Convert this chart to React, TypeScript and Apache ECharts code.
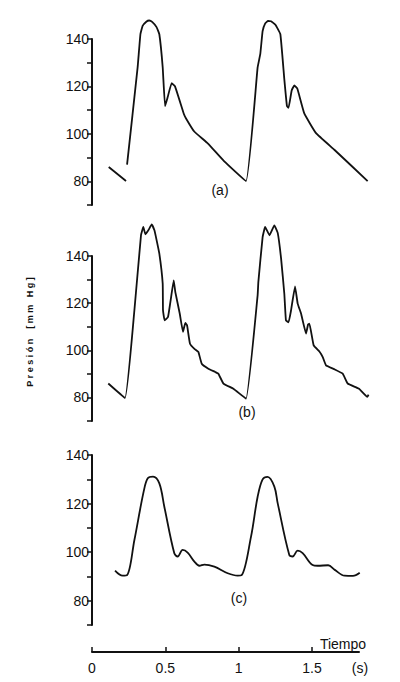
import React, { useEffect, useRef } from "react";
import * as echarts from "echarts";

// Panel (a)
const timeA = [0.114, 0.232, 0.235, 0.239, 0.311, 0.33, 0.345, 0.37, 0.39, 0.41, 0.44, 0.459, 0.482, 0.498, 0.516, 0.543, 0.566, 0.625, 0.641, 0.697, 0.789, 0.9, 1.05, 1.129, 1.147, 1.163, 1.18, 1.2, 1.22, 1.25, 1.284, 1.311, 1.329, 1.34, 1.361, 1.379, 1.4, 1.447, 1.527, 1.652, 1.879];
const pressureA = [86, 80.1, null, 87, 128, 142, 145.5, 147.3, 147.8, 147.2, 145, 142, 128, 111.7, 115.5, 121.4, 120, 108.6, 106.5, 101, 96, 88.5, 80.1, 128, 133.6, 143.3, 146.5, 147.6, 147.5, 146, 142, 123, 111.7, 111, 118.3, 120.4, 119, 108.6, 100.3, 93.3, 80.1];

// Panel (b)
const timeB = [0.111, 0.225, 0.289, 0.334, 0.35, 0.364, 0.385, 0.407, 0.425, 0.436, 0.459, 0.482, 0.484, 0.495, 0.518, 0.536, 0.557, 0.568, 0.598, 0.62, 0.636, 0.648, 0.668, 0.7, 0.725, 0.748, 0.793, 0.84, 0.861, 0.896, 0.964, 1.05, 1.129, 1.134, 1.163, 1.18, 1.21, 1.243, 1.266, 1.289, 1.311, 1.322, 1.34, 1.357, 1.384, 1.402, 1.425, 1.459, 1.473, 1.482, 1.511, 1.55, 1.573, 1.595, 1.65, 1.709, 1.743, 1.82, 1.877, 1.885];
const pressureB = [85.9, 79.8, 117, 148.8, 152.3, 149.2, 151, 153.4, 151, 148, 141, 128.3, 117, 112.7, 114.1, 121.2, 129.7, 124.7, 115.6, 107.8, 111.6, 110.6, 102.8, 100.5, 99.3, 94.3, 92.2, 90.8, 90.1, 85.9, 83.7, 79.5, 123.3, 129, 148, 152.3, 148.8, 153, 149.8, 138.9, 124, 112.7, 111.9, 117, 127.1, 119.8, 115.6, 107.1, 111, 111.3, 102.1, 99.5, 97.1, 93.6, 92, 90.1, 85.9, 83.7, 80.2, 81.2];

// Panel (c)
const timeC = [0.157, 0.209, 0.239, 0.289, 0.352, 0.38, 0.416, 0.459, 0.493, 0.561, 0.584, 0.618, 0.652, 0.698, 0.732, 0.766, 0.834, 0.925, 0.993, 1.02, 1.084, 1.129, 1.163, 1.197, 1.243, 1.266, 1.345, 1.368, 1.402, 1.436, 1.504, 1.538, 1.61, 1.655, 1.722, 1.779, 1.825];
const pressureC = [92.4, 90.3, 90.5, 105, 124.9, 130.4, 131.1, 128.3, 118.7, 99.5, 98.2, 100.9, 99.8, 96.1, 94.4, 94.9, 94, 91.3, 90.3, 90.5, 106.4, 122.8, 130, 131, 127, 120.1, 98.8, 98.2, 100.6, 99.6, 94.7, 94.4, 94.6, 92.7, 90.3, 90.2, 91.5];

const yLabels = [80, 100, 120, 140];
const timeLabels = [0, 0.5, 1, 1.5];
const panelNames = ["(a)", "(b)", "(c)"];

const FONT = "'Liberation Sans', Arial, sans-serif";
const INK = "#111111";
const PX_PER_S = 146.7;
const PANEL_MAX = 1.9;
const TIME_MAX = 1.82;

function pairs(t: number[], v: (number | null)[]) {
  return t.map((x, i) => [x, v[i] === null ? "-" : v[i]]);
}

export default function App() {
  const ref = useRef<HTMLDivElement>(null);
  useEffect(() => {
    document.body.style.margin = "0";
    if (!ref.current) return;
    const chart = echarts.init(ref.current, undefined, { renderer: "svg" });
    const panels = [
      { top: 39, height: 166 },
      { top: 256, height: 165 },
      { top: 455, height: 170 },
    ];
    const grids: any[] = panels.map((p) => ({
      left: 92,
      top: p.top,
      width: PANEL_MAX * PX_PER_S,
      height: p.height,
    }));
    grids.push({ left: 92, top: 641, width: TIME_MAX * PX_PER_S, height: 11 });

    const xAxes: any[] = panels.map((_, i) => ({
      type: "value",
      gridIndex: i,
      min: 0,
      max: PANEL_MAX,
      show: false,
    }));
    xAxes.push({
      type: "value",
      gridIndex: 3,
      min: 0,
      max: TIME_MAX,
      interval: 0.5,
      axisLine: { show: true, lineStyle: { color: INK, width: 2 } },
      axisTick: { show: true, inside: true, length: 5, lineStyle: { color: INK, width: 1.5 } },
      splitLine: { show: false },
      axisLabel: {
        margin: 9,
        fontSize: 14,
        color: INK,
        fontFamily: FONT,
        showMaxLabel: false,
        formatter: (v: number) => (timeLabels.some((l) => Math.abs(l - v) < 1e-6) ? String(v) : ""),
      },
    });

    const yAxes: any[] = panels.map((_, i) => ({
      type: "value",
      gridIndex: i,
      min: 70,
      max: 140,
      interval: 10,
      axisLine: { show: true, lineStyle: { color: INK, width: 2 } },
      axisTick: { show: true, length: 5, lineStyle: { color: INK, width: 1.5 } },
      splitLine: { show: false },
      axisLabel: {
        margin: 3,
        fontSize: 14,
        color: INK,
        fontFamily: FONT,
        formatter: (v: number) => (yLabels.includes(v) ? String(v) : ""),
      },
    }));
    yAxes.push({ type: "value", gridIndex: 3, show: false, min: 0, max: 1 });

    const data = [pairs(timeA, pressureA), pairs(timeB, pressureB), pairs(timeC, pressureC)];
    const series: any[] = data.map((d, i) => ({
      type: "line",
      xAxisIndex: i,
      yAxisIndex: i,
      data: d,
      showSymbol: false,
      clip: false,
      smooth: i === 2 ? 0.35 : 0.1,
      connectNulls: false,
      lineStyle: { color: INK, width: 1.8 },
    }));

    const labelPos = [
      [220, 190],
      [247, 412],
      [239, 598],
    ];
    const graphic: any[] = panelNames.map((n, i) => ({
      type: "text",
      x: labelPos[i][0],
      y: labelPos[i][1],
      style: {
        text: n,
        fontSize: 14,
        fontFamily: FONT,
        fill: INK,
        align: "center",
        verticalAlign: "middle",
      },
    }));
    graphic.push({
      type: "text",
      x: 343,
      y: 644,
      style: { text: "Tiempo", fontSize: 14, fontFamily: FONT, fill: INK, align: "center", verticalAlign: "middle" },
    });
    graphic.push({
      type: "text",
      x: 360,
      y: 668,
      style: { text: "(s)", fontSize: 14, fontFamily: FONT, fill: INK, align: "center", verticalAlign: "middle" },
    });
    graphic.push({
      type: "text",
      x: 30,
      y: 332,
      rotation: Math.PI / 2,
      style: {
        text: "P r e s i ó n    [ m m   H g ]",
        fontSize: 9,
        fontWeight: "bold",
        fontFamily: FONT,
        fill: INK,
        align: "center",
        verticalAlign: "middle",
      },
    });

    chart.setOption({
      animation: false,
      backgroundColor: "#ffffff",
      grid: grids,
      xAxis: xAxes,
      yAxis: yAxes,
      series,
      graphic,
    });
    return () => chart.dispose();
  }, []);
  return <div ref={ref} style={{ width: 400, height: 682 }} />;
}
